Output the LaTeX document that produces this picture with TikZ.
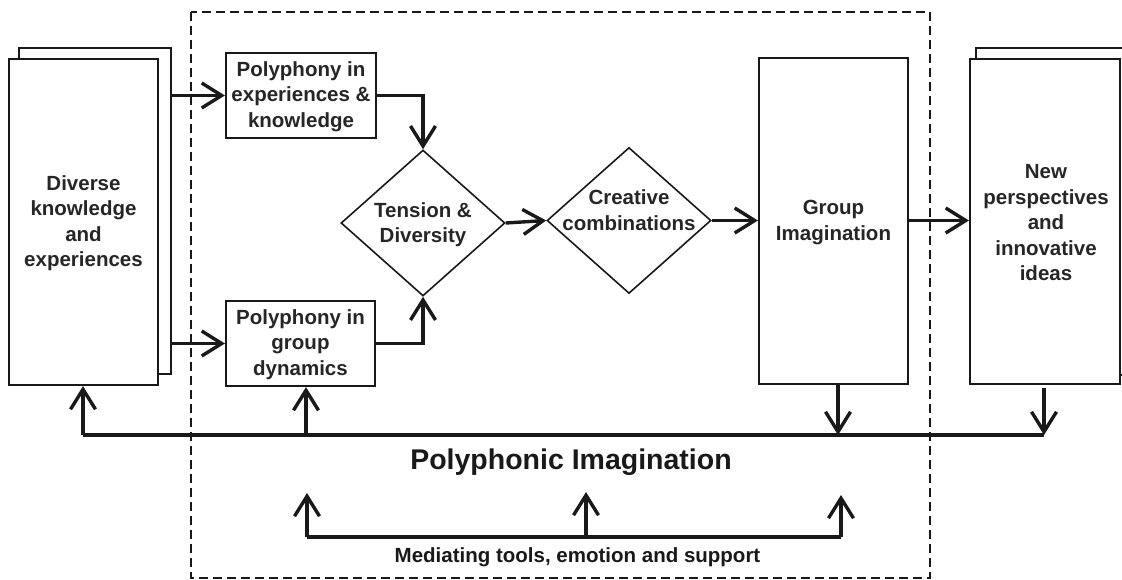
\documentclass[tikz,border=0pt]{standalone}
\usepackage{fontspec}
\setmainfont{Liberation Sans}
\usetikzlibrary{arrows.meta,shapes.geometric}
\begin{document}
\begin{tikzpicture}[x=1pt,y=-1pt,
  box/.style={draw=black!90, line width=2.2pt, fill=white, inner sep=0pt},
  dia/.style={draw=black!90, line width=1.6pt, fill=white, diamond, inner sep=0pt, minimum width=164pt, minimum height=146pt},
  txt/.style={align=center, font=\fontsize{20.5}{25.5}\selectfont\bfseries, text=black!85},
  arr/.style={draw=black!90, line width=3.4pt, -{Straight Barb[length=20pt,width=25pt]}},
  ln/.style={draw=black!90, line width=3.4pt},
  frame/.style={draw=black!90, line width=2pt, dash pattern=on 9pt off 5pt}
]
\useasboundingbox (0,0) rectangle (1122,580);
% dashed frame
\draw[frame] (191,12) rectangle (930,578);

% left stacked box
\node[box, minimum width=152pt, minimum height=326pt] (dback) at (95,211) {};
\node[box, minimum width=149pt, minimum height=326pt] (dfront) at (83.5,222) {};
\node[txt] (dtext) at (83.5,223) {Diverse\\knowledge\\and\\experiences};

% right stacked box
\node[box, minimum width=152pt, minimum height=327pt] (nback) at (1052,211.5) {};
\node[box, minimum width=150pt, minimum height=325pt] (nfront) at (1045,221.5) {};
\node[txt] (ntext) at (1046,223) {New\\perspectives\\and\\innovative\\ideas};

% group imagination
\node[box, minimum width=149pt, minimum height=326pt] (grp) at (833.5,221) {};
\node[txt] (gtext) at (833.5,222.5) {Group\\Imagination};

% polyphony boxes
\node[box, minimum width=150pt, minimum height=85pt] (box1) at (301,95.5) {};
\node[txt] (b1text) at (301,96.5) {Polyphony in\\experiences \&\\knowledge};
\node[box, minimum width=149pt, minimum height=85pt] (box2) at (300.5,343.5) {};
\node[txt] (b2text) at (300.5,344.5) {Polyphony in\\group\\dynamics};

% diamonds
\node[dia] (ten) at (423,223) {};
\node[txt] (ttext) at (423,224.5) {Tension \&\\Diversity};
\node[dia] (cre) at (629,220.5) {};
\node[txt] (ctext) at (629,210) {Creative\\combinations};

% arrows into polyphony boxes
\draw[arr] (dback.east |- box1.west) -- (box1.west);
\draw[arr] (dback.east |- box2.west) -- (box2.west);
% polyphony boxes to tension
\draw[arr] (box1.east) -| (ten.north);
\draw[arr] (box2.east) -| (ten.south);
% tension to creative
\draw[arr] (ten.east) -- (cre.west);
% creative to group
\draw[arr] (cre.east) -- (grp.west |- cre.east);
% group to new
\draw[arr] (grp.east |- cre.east) -- (nfront.west |- cre.east);

% feedback line
\coordinate (fl) at (83,435);
\coordinate (fp) at (306,435);
\coordinate (fg) at (838,435);
\coordinate (fr) at (1044,435);
\coordinate (gs) at (838,384);
\coordinate (ns) at (1044,388);
\draw[ln] (fl) -- (fr);
\draw[arr] (fl) -- (fl |- dfront.south);
\draw[arr] (fp) -- (fp |- box2.south);
\draw[arr] (gs) -- (fg);
\draw[arr] (ns) -- (fr);

% title
\node[font=\fontsize{28.5}{32}\selectfont\bfseries, text=black!90] (title) at (571,462) {Polyphonic Imagination};

% mediating arrows
\coordinate (m1) at (307,537);
\coordinate (m2) at (586,537);
\coordinate (m3) at (841,537);
\coordinate (t1) at (307,493);
\coordinate (t2) at (586,492);
\coordinate (t3) at (841,495);
\draw[ln] (m1) -- (m3);
\draw[arr] (m1) -- (t1);
\draw[arr] (m2) -- (t2);
\draw[arr] (m3) -- (t3);
\node[font=\fontsize{20.5}{24}\selectfont\bfseries, text=black!90] (med) at (577.5,557.5) {Mediating tools, emotion and support};
\end{tikzpicture}
\end{document}
